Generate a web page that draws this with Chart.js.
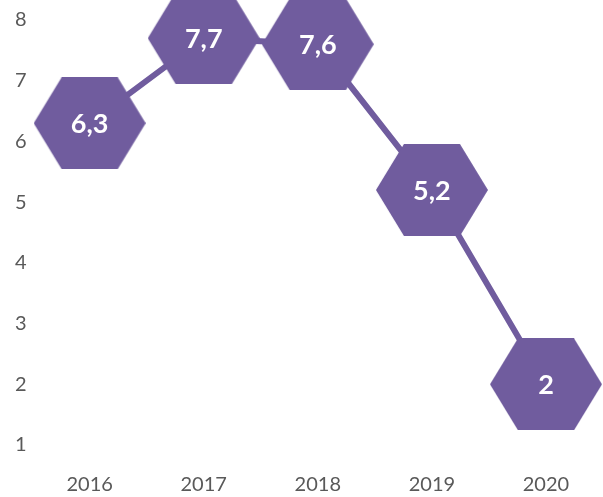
<!DOCTYPE html>
<html>
<head>
<meta charset="utf-8">
<script src="https://cdn.jsdelivr.net/npm/chart.js@4/dist/chart.umd.min.js"></script>
<style>
  html, body { margin: 0; padding: 0; background: #ffffff; overflow: hidden; }
  canvas { display: block; }
</style>
</head>
<body>
<canvas id="c" width="603" height="497"></canvas>
<script>
const categories = ['2016', '2017', '2018', '2019', '2020'];
const values = [6.3, 7.7, 7.6, 5.2, 2];
const valueLabels = ['6,3', '7,7', '7,6', '5,2', '2'];
const yTicks = [1, 2, 3, 4, 5, 6, 7, 8];

const PURPLE = '#705C9E';
const GREY = '#595959';

// hexagon marker image
function hexImage(w, h, color) {
  const cv = document.createElement('canvas');
  cv.width = w; cv.height = h;
  const ctx = cv.getContext('2d');
  const q = w * 0.25;
  ctx.beginPath();
  ctx.moveTo(0, h / 2);
  ctx.lineTo(q, 0);
  ctx.lineTo(w - q, 0);
  ctx.lineTo(w, h / 2);
  ctx.lineTo(w - q, h);
  ctx.lineTo(q, h);
  ctx.closePath();
  ctx.fillStyle = color;
  ctx.fill();
  return cv;
}
const hex = hexImage(112, 92, PURPLE);

const valueLabelPlugin = {
  id: 'valueLabels',
  afterDatasetsDraw(chart) {
    const ctx = chart.ctx;
    const meta = chart.getDatasetMeta(0);
    ctx.save();
    ctx.fillStyle = '#ffffff';
    ctx.font = 'bold 27px Lato';
    ctx.textAlign = 'center';
    ctx.textBaseline = 'middle';
    meta.data.forEach((pt, i) => {
      ctx.fillText(valueLabels[i], pt.x, pt.y + 1);
    });
    ctx.restore();
  }
};

new Chart(document.getElementById('c'), {
  type: 'line',
  data: {
    labels: categories,
    datasets: [{
      data: values,
      borderColor: PURPLE,
      borderWidth: 6,
      tension: 0,
      pointStyle: hex,
      pointRadius: 10,
      pointHoverRadius: 10,
      pointBorderWidth: 0,
      pointHoverBorderWidth: 0,
      clip: false
    }]
  },
  options: {
    responsive: false,
    animation: false,
    events: [],
    layout: { autoPadding: false, padding: { top: 20, right: 0, bottom: 0, left: 9 } },
    plugins: { legend: { display: false }, tooltip: { enabled: false } },
    scales: {
      x: {
        offset: true,
        grid: { display: false, drawTicks: false },
        border: { display: false },
        ticks: { color: GREY, font: { family: 'Lato', size: 20 }, padding: 28, maxRotation: 0 },
        afterFit(axis) { axis.height = 52; }
      },
      y: {
        min: yTicks[0],
        max: yTicks[yTicks.length - 1],
        afterBuildTicks(axis) { axis.ticks = yTicks.map(v => ({ value: v })); },
        grid: { display: false, drawTicks: false },
        border: { display: false },
        ticks: { color: GREY, font: { family: 'Lato', size: 20 }, padding: 6, crossAlign: 'center' }
      }
    }
  },
  plugins: [valueLabelPlugin]
});
</script>
</body>
</html>
